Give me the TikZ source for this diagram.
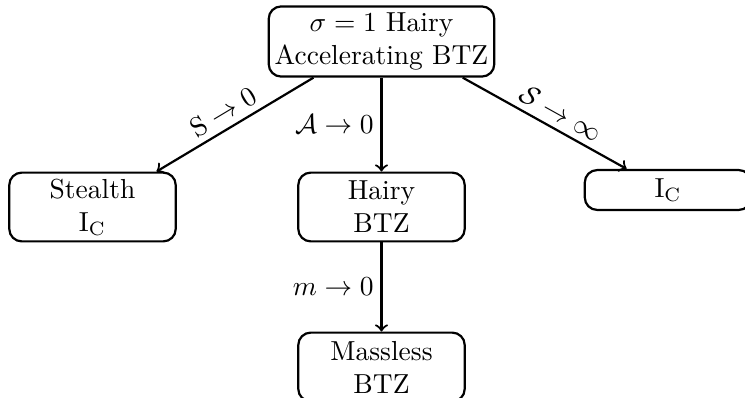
\documentclass[tikz,border=0pt]{standalone}
\usepackage{amsmath,amssymb}
\begin{document}
\begin{tikzpicture}[x=0.3636pt,y=-0.3636pt,
  box/.style={draw,thick,rounded corners=4.5pt,align=center,inner sep=2pt,minimum width=60.5pt},
  twoline/.style={minimum height=25pt},
  oneline/.style={minimum height=14.5pt},
  conn/.style={thick,->},
  lab/.style={inner sep=2.5pt}]
\useasboundingbox (0,0) rectangle (745,397);
\node[box,minimum height=25.5pt,minimum width=82pt] (top) at (381.5,41.5) {$\sigma=1$ Hairy\\Accelerating BTZ};
\node[box,twoline] (stealth) at (92.5,207) {Stealth\\$\mathrm{I_C}$};
\node[box,twoline] (hairy) at (381.5,207) {Hairy\\BTZ};
\node[box,oneline] (ic) at (668,190) {$\mathrm{I_C}$};
\node[box,twoline] (massless) at (381.5,367) {Massless\\BTZ};
\draw[conn] (top.208) -- node[lab,sloped,above,pos=0.52] {$\mathrm{S}\to 0$} (stealth.29.5);
\draw[conn] (top.south) -- node[lab,left,pos=0.5] {$\mathcal{A}\to 0$} (hairy.north);
\draw[conn] (top.-24.5) -- node[lab,sloped,above,pos=0.55] {$\mathcal{S}\to \infty$} (ic.153);
\draw[conn] (hairy.south) -- node[lab,left,pos=0.5] {$m\to 0$} (massless.north);
\end{tikzpicture}
\end{document}
